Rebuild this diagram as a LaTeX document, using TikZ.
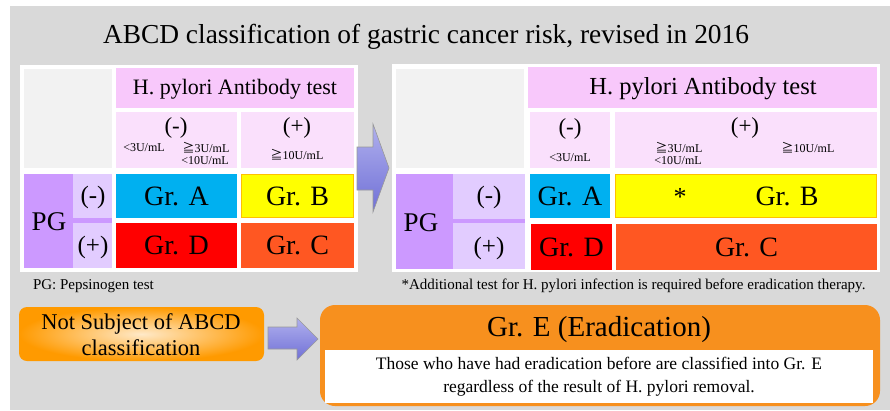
\documentclass[tikz,border=0pt]{standalone}
\usepackage{fontspec}
\setmainfont{Liberation Serif}
\newfontfamily\cjk{Noto Sans CJK JP}
\newcommand{\gq}{{\cjk ≧}}
\newcommand{\fs}[1]{\fontsize{#1}{#1}\selectfont}
\definecolor{bggrey}{HTML}{D9D9D9}
\definecolor{emptyc}{HTML}{F2F2F2}
\definecolor{headc}{HTML}{F8C8FB}
\definecolor{subc}{HTML}{FAE0FC}
\definecolor{pgc}{HTML}{CC99FF}
\definecolor{rowc}{HTML}{E2CCFF}
\definecolor{grA}{HTML}{00B0F0}
\definecolor{grB}{HTML}{FFFF00}
\definecolor{grBline}{HTML}{FFC000}
\definecolor{grD}{HTML}{FF0000}
\definecolor{grC}{HTML}{FF5722}
\definecolor{orangeE}{HTML}{F7901E}
\definecolor{arrtop}{HTML}{B0B0EE}
\definecolor{arrbot}{HTML}{7070D6}
\definecolor{nsin}{HTML}{FFE9C8}
\definecolor{nsout}{HTML}{FF9A00}
\begin{document}
\begin{tikzpicture}[x=1pt,y=-1pt,
  cell/.style={anchor=north west, inner sep=0pt, outer sep=0pt, draw=none},
  txt/.style={inner sep=0pt, outer sep=0pt, align=center},
  blockarrow/.style={top color=arrtop, bottom color=arrbot, draw=gray!80, line width=0.6pt}]
\useasboundingbox (0,0) rectangle (890,410);
\fill[white] (0,0) rectangle (890,410);
\fill[bggrey] (10,6) rectangle (890,410);

\node[txt] (title) at (426,37) {\fs{27.4}ABCD classification of gastric cancer risk, revised in 2016};

% ---------- left table ----------
\node[cell, fill=white, minimum width=338, minimum height=207] (lpanel) at (20,65) {};
\node[cell, fill=emptyc, minimum width=88, minimum height=99] (lempty) at (24,69) {};
\node[cell, fill=headc, minimum width=238, minimum height=40] (lhead) at (116,68) {};
\node[txt] (lheadt) at (235,89) {\fs{22}H. pylori Antibody test};
\node[cell, fill=subc, minimum width=121, minimum height=56] (lneg) at (116,112) {};
\node[cell, fill=subc, minimum width=113, minimum height=56] (lpos) at (241,112) {};
\node[txt] (lnegt) at (176,128) {\fs{23}(-)};
\node[txt] (lneg1) at (144,148) {\fs{12}<3U/mL};
\node[txt] (lneg2) at (206,148) {\fs{12}\gq3U/mL};
\node[txt] (lneg3) at (205,161) {\fs{12}<10U/mL};
\node[txt] (lpost) at (297,128) {\fs{23}(+)};
\node[txt] (lpos1) at (297,155) {\fs{12}\gq10U/mL};

\node[cell, fill=pgc, minimum width=49, minimum height=94] (lpg) at (24,174) {};
\node[txt] (lpgt) at (49,222) {\fs{27}PG};
\node[cell, fill=rowc, minimum width=39, minimum height=44] (lrn) at (73,174) {};
\node[cell, fill=pgc, minimum width=39, minimum height=5] (lsep) at (73,218) {};
\node[cell, fill=rowc, minimum width=39, minimum height=45] (lrp) at (73,223) {};
\node[txt] (lrnt) at (93,197) {\fs{25}(-)};
\node[txt] (lrpt) at (93,247) {\fs{25}(+)};

\node[cell, fill=grA, minimum width=121, minimum height=44] (lA) at (116,174) {};
\node[cell, fill=grB, draw=grBline, line width=0.8pt, minimum width=112, minimum height=43] (lB) at (241.5,174.5) {};
\node[cell, fill=grD, minimum width=121, minimum height=45] (lD) at (116,223) {};
\node[cell, fill=grC, minimum width=113, minimum height=45] (lC) at (241,223) {};
\node[txt] (lAt) at (lA.center) {\fs{28}Gr. A};
\node[txt] (lBt) at (lB.center) {\fs{28}Gr. B};
\node[txt] (lDt) at (lD.center) {\fs{28}Gr. D};
\node[txt] (lCt) at (lC.center) {\fs{28}Gr. C};

\node[txt, anchor=west] (pgnote) at (33,286) {\fs{15}PG: Pepsinogen test};

% ---------- arrow 1 ----------
\draw[blockarrow] (357,147) -- (373,147) -- (373,124) -- (389,168) -- (373,212) -- (373,190) -- (357,190) -- cycle;

% ---------- right table ----------
\node[cell, fill=white, minimum width=488, minimum height=208] (rpanel) at (392,64) {};
\node[cell, fill=emptyc, minimum width=128, minimum height=99] (rempty) at (396,69) {};
\node[cell, fill=headc, minimum width=349, minimum height=41] (rhead) at (528,67) {};
\node[txt] (rheadt) at (703,89) {\fs{24.5}H. pylori Antibody test};
\node[cell, fill=subc, minimum width=80, minimum height=56] (rneg) at (530,112) {};
\node[cell, fill=subc, minimum width=262, minimum height=56] (rpos) at (615,112) {};
\node[txt] (rnegt) at (570,129) {\fs{23}(-)};
\node[txt] (rneg1) at (570,158) {\fs{12}<3U/mL};
\node[txt] (rpost) at (745,128) {\fs{23}(+)};
\node[txt] (rpos1) at (679,148) {\fs{12}\gq3U/mL};
\node[txt] (rpos2) at (678,161) {\fs{12}<10U/mL};
\node[txt] (rpos3) at (808,148) {\fs{12}\gq10U/mL};

\node[cell, fill=pgc, minimum width=57, minimum height=95] (rpg) at (396,174) {};
\node[txt] (rpgt) at (421,223) {\fs{27}PG};
\node[cell, fill=rowc, minimum width=72, minimum height=45] (rrn) at (453,174) {};
\node[cell, fill=pgc, minimum width=72, minimum height=4] (rsep) at (453,219) {};
\node[cell, fill=rowc, minimum width=72, minimum height=46] (rrp) at (453,223) {};
\node[txt] (rrnt) at (489,197) {\fs{25}(-)};
\node[txt] (rrpt) at (489,248) {\fs{25}(+)};

\node[cell, fill=grA, minimum width=80, minimum height=44] (rA) at (530,174) {};
\node[cell, fill=grB, draw=grBline, line width=0.8pt, minimum width=261, minimum height=43] (rB) at (615.5,174.5) {};
\node[cell, fill=grD, minimum width=81, minimum height=46] (rD) at (531,224) {};
\node[cell, fill=grC, minimum width=261, minimum height=46] (rC) at (616,224) {};
\node[txt] (rAt) at (rA.center) {\fs{28}Gr. A};
\node[txt] (rstar) at (680,197) {\fs{26}*};
\node[txt] (rBt) at (787,196) {\fs{28}Gr. B};
\node[txt] (rDt) at (rD.center) {\fs{28}Gr. D};
\node[txt] (rCt) at (rC.center) {\fs{28}Gr. C};

\node[txt] (addnote) at (633.5,286) {\fs{15}*Additional test for H. pylori infection is required before eradication therapy.};

% ---------- bottom ----------
\node[cell, rounded corners=8pt, inner color=nsin, outer color=nsout, minimum width=245, minimum height=54] (notsub) at (19,307) {};
\node[txt, font=\fontsize{22.5}{26}\selectfont] (notsubt) at (141,335) {Not Subject of ABCD\\classification};

\draw[blockarrow] (268,327) -- (297,327) -- (297,318) -- (318,339) -- (297,360) -- (297,349) -- (268,349) -- cycle;

\node[cell, fill=orangeE, rounded corners=15pt, minimum width=560, minimum height=101] (ebox) at (320,305) {};
\node[txt] (etitle) at (599,330) {\fs{29}Gr. E (Eradication)};
\node[cell, fill=white, minimum width=548, minimum height=53] (einner) at (325,350) {};
\node[txt, font=\fontsize{17.5}{23}\selectfont] (ebody) at (599,377) {Those who have had eradication before are classified into Gr. E\\regardless of the result of H. pylori removal.};
\end{tikzpicture}
\end{document}
